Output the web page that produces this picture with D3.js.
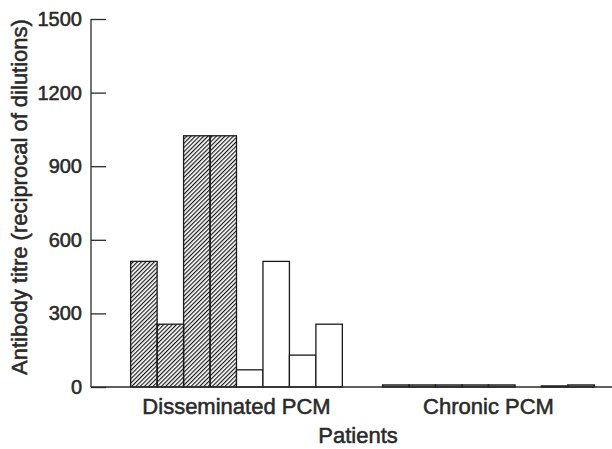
<!DOCTYPE html>
<meta charset="utf-8">
<style>
body { margin: 0; background: #fff; }
text { font-family: "Liberation Sans", Arial, sans-serif; fill: #2a2a2a; stroke: #2a2a2a; stroke-width: 0.55px; }
</style>
<body>
<script src="https://d3js.org/d3.v7.min.js"></script>
<script>

// data
var groups = ["Disseminated PCM", "Chronic PCM"];
var disseminated = [512, 256, 1024, 1024, 70, 512, 130, 256];
var disseminatedHatched = [1, 1, 1, 1, 0, 0, 0, 0];
var chronic = [8, 8, 8, 8, 8, 0, 4, 8];
var chronicHatched = [0, 0, 0, 0, 0, 0, 0, 0];
var yTicks = [0, 300, 600, 900, 1200, 1500];

var data = [];
disseminated.forEach(function(v, i) {
  data.push({group: groups[0], idx: i, value: v, hatched: disseminatedHatched[i]});
});
chronic.forEach(function(v, i) {
  data.push({group: groups[1], idx: i, value: v, hatched: chronicHatched[i]});
});

var margin = {top: 19, right: 0, bottom: 62, left: 91},
    width = 612 - margin.left - margin.right,
    height = 449 - margin.top - margin.bottom;

var svg = d3.select("body").append("svg")
    .attr("width", 612)
    .attr("height", 449);

var defs = svg.append("defs");
defs.append("pattern")
    .attr("id", "hatch")
    .attr("patternUnits", "userSpaceOnUse")
    .attr("width", 3)
    .attr("height", 3)
    .attr("patternTransform", "rotate(45)")
  .append("line")
    .attr("x1", 0.6).attr("y1", 0)
    .attr("x2", 0.6).attr("y2", 3)
    .attr("stroke", "#1a1a1a")
    .attr("stroke-width", 1.2);

var g = svg.append("g")
    .attr("transform", "translate(" + margin.left + "," + margin.top + ")");

// scales
var x0 = d3.scaleBand()
    .domain(groups)
    .range([19.5, 523.5])
    .paddingInner(0.16)
    .paddingOuter(0.08);

var x1 = d3.scaleBand()
    .domain(d3.range(8))
    .range([0, x0.bandwidth()]);

var y = d3.scaleLinear()
    .domain([0, 1500])
    .range([height, 0]);

// bars
g.selectAll(".bar")
    .data(data)
  .enter().append("rect")
    .attr("class", "bar")
    .attr("x", function(d) { return x0(d.group) + x1(d.idx); })
    .attr("width", x1.bandwidth())
    .attr("y", function(d) { return y(d.value); })
    .attr("height", function(d) { return height - y(d.value); })
    .attr("fill", function(d) { return d.hatched ? "url(#hatch)" : "#fff"; })
    .attr("stroke", "#1a1a1a")
    .attr("stroke-width", function(d) { return d.value < 20 ? 1.5 : 1.3; });

// y axis, ticks point inward
var yAxis = g.append("g")
    .call(d3.axisRight(y).tickValues(yTicks).tickFormat(d3.format("d")).tickSize(15));
yAxis.select(".domain").remove();
yAxis.selectAll(".tick line").attr("stroke", "#2a2a2a").attr("stroke-width", 1.3);
yAxis.selectAll(".tick text")
    .attr("text-anchor", "end")
    .attr("x", -9)
    .style("font-size", "20px")
    .style("font-family", "'Liberation Sans', Arial, sans-serif")
    .attr("fill", "#2a2a2a");

g.append("line")
    .attr("x1", 0).attr("x2", 0)
    .attr("y1", 0).attr("y2", height)
    .attr("stroke", "#2a2a2a").attr("stroke-width", 1.3);

// x baseline
g.append("line")
    .attr("x1", 0).attr("x2", width)
    .attr("y1", height).attr("y2", height)
    .attr("stroke", "#2a2a2a").attr("stroke-width", 1.3);

// group labels
g.selectAll(".glabel")
    .data(groups)
  .enter().append("text")
    .attr("class", "glabel")
    .attr("x", function(d) { return x0(d) + x0.bandwidth() / 2; })
    .attr("y", height + 27)
    .attr("text-anchor", "middle")
    .style("font-size", "22px")
    .text(function(d) { return d; });

// axis titles
g.append("text")
    .attr("x", 358 - margin.left)
    .attr("y", height + 56)
    .attr("text-anchor", "middle")
    .style("font-size", "22px")
    .text("Patients");

g.append("text")
    .attr("transform", "translate(" + (27 - margin.left) + "," + (197 - margin.top) + ") rotate(-90)")
    .attr("text-anchor", "middle")
    .style("font-size", "22px")
    .text("Antibody titre (reciprocal of dilutions)");

</script>
</body>
